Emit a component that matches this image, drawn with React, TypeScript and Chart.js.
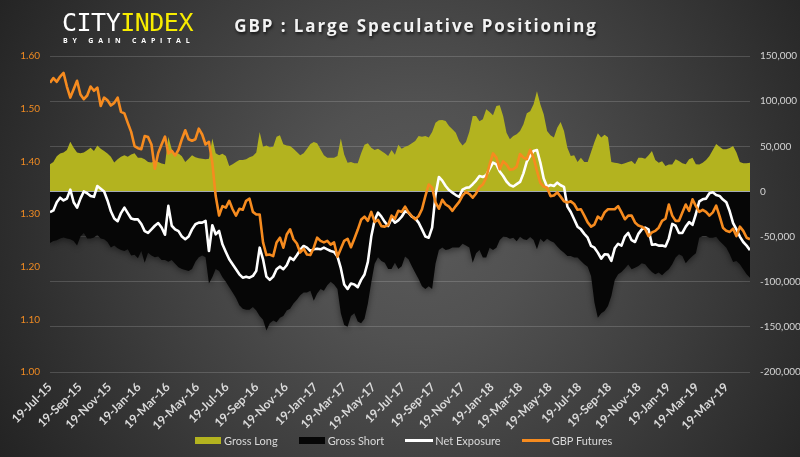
import { useEffect, useRef } from 'react';
import { Chart, registerables } from 'chart.js';

// Soft shadow under the Gross Short area (registered before the filler so it applies to the fill)
const SHORT_INDEX = 3;
const areaShadow = {
  id: 'areaShadow',
  beforeDatasetDraw(chart: any, args: any) {
    if (args.index !== SHORT_INDEX) return;
    const ctx = chart.ctx;
    ctx.save();
    ctx.shadowColor = 'rgba(0,0,0,0.45)';
    ctx.shadowBlur = 6;
    ctx.shadowOffsetY = 2;
  },
  afterDatasetDraw(chart: any, args: any) {
    if (args.index !== SHORT_INDEX) return;
    chart.ctx.restore();
  },
};

Chart.register(areaShadow, ...registerables);

// Tick labels of the date axis (every two months)
const TICK_LABELS = [
  '19-Jul-15', '19-Sep-15', '19-Nov-15', '19-Jan-16', '19-Mar-16', '19-May-16',
  '19-Jul-16', '19-Sep-16', '19-Nov-16', '19-Jan-17', '19-Mar-17', '19-May-17',
  '19-Jul-17', '19-Sep-17', '19-Nov-17', '19-Jan-18', '19-Mar-18', '19-May-18',
  '19-Jul-18', '19-Sep-18', '19-Nov-18', '19-Jan-19', '19-Mar-19', '19-May-19',
];

// Weekly observations starting 19-Jul-15
const GBP_FUTURES = [
  1.549, 1.558, 1.551, 1.561, 1.568, 1.542, 1.521, 1.537, 1.553, 1.527, 1.518, 1.525, 1.542, 1.534, 1.540, 1.505, 1.521, 1.516, 1.506, 1.511, 1.521, 1.494, 1.491, 1.473, 1.456, 1.429, 1.425, 1.423, 1.448, 1.446, 1.432, 1.386, 1.416, 1.432, 1.447, 1.415, 1.420, 1.411, 1.422, 1.442, 1.459, 1.442, 1.439,
  1.442, 1.462, 1.451, 1.432, 1.437, 1.397, 1.334, 1.297, 1.315, 1.312, 1.325, 1.309, 1.297, 1.310, 1.308, 1.325, 1.329, 1.304, 1.299, 1.299, 1.246, 1.222, 1.223, 1.220, 1.246, 1.255, 1.236, 1.261, 1.271, 1.252, 1.244, 1.227, 1.234, 1.223, 1.222, 1.236, 1.255, 1.249, 1.246, 1.249, 1.242,
  1.246, 1.219, 1.234, 1.249, 1.253, 1.237, 1.253, 1.270, 1.289, 1.295, 1.287, 1.304, 1.285, 1.289, 1.277, 1.276, 1.279, 1.297, 1.291, 1.306, 1.304, 1.314, 1.303, 1.296, 1.290, 1.296, 1.309, 1.334, 1.356, 1.350, 1.322, 1.310, 1.327, 1.318, 1.314, 1.306, 1.315, 1.323, 1.335, 1.342, 1.338,
  1.331, 1.339, 1.351, 1.356, 1.369, 1.394, 1.415, 1.407, 1.385, 1.400, 1.394, 1.384, 1.385, 1.390, 1.414, 1.407, 1.404, 1.422, 1.407, 1.382, 1.359, 1.352, 1.350, 1.334, 1.335, 1.341, 1.333, 1.324, 1.322, 1.324, 1.319, 1.308, 1.309, 1.297, 1.284, 1.276, 1.280, 1.295, 1.290, 1.303, 1.309, 1.309,
  1.309, 1.315, 1.303, 1.290, 1.297, 1.297, 1.284, 1.278, 1.276, 1.271, 1.258, 1.265, 1.268, 1.274, 1.287, 1.291, 1.318, 1.297, 1.287, 1.287, 1.303, 1.318, 1.306, 1.328, 1.315, 1.304, 1.308, 1.304, 1.297, 1.303, 1.316, 1.296, 1.274, 1.268, 1.266, 1.272, 1.258, 1.276, 1.268, 1.255, 1.252,
];

// Contracts, in thousands
const GROSS_LONG = [
  30, 32.6, 39, 42, 43, 46, 55, 48.5, 43, 42.2, 43, 45.5, 48.5, 44.8, 51, 47.4, 44.8, 42, 38.5, 32, 35.6, 38.5, 40, 38.5, 41, 42.2, 37.4, 37.4, 35.6, 32.6, 32, 33.7, 32.6, 31, 30, 60.7, 46.6, 41, 42, 39, 32.6, 36.3, 40,
  37.8, 36.7, 36.3, 35.6, 36.3, 58.5, 42.2, 40, 41.8, 39.3, 28.2, 30, 32.6, 34.8, 34.8, 35.6, 37.8, 39.3, 43, 65.8, 49.6, 51, 48.9, 49.6, 60.7, 62.1, 52.2, 51, 50.3, 47.4, 43.7, 40, 42.2, 47.4, 52.5, 54.8, 53.3, 46.6, 40, 37.4, 37.4,
  37.4, 39.3, 58.5, 41, 31.9, 32.6, 31.1, 31.1, 42.2, 51.8, 53.3, 48.5, 45.9, 47.4, 44.8, 42.2, 39.3, 45.9, 40.7, 51.8, 47.4, 49.6, 51, 53.3, 55.9, 61.4, 60.7, 61.4, 59.6, 65.8, 76.2, 78.8, 79.1, 78, 72.5, 68.8, 65.1, 55.9, 51, 54.8, 66,
  83.6, 83.6, 77.6, 79.9, 91, 88, 84.3, 94.6, 95.4, 83.6, 65.1, 57.7, 61.4, 63.3, 66.9, 74.3, 86.5, 88.7, 96.5, 111, 96.5, 85.4, 66.9, 62.1, 59.6, 70.6, 76.9, 66.9, 48.5, 39.3, 40, 32.6, 37.4, 32.6, 32.6, 43.7, 54.8, 64.4, 59.6, 62.9, 60, 32.6,
  31.9, 31.1, 30, 31.1, 32.6, 33.7, 30, 37.4, 37.4, 36.3, 40, 44.8, 34.8, 31.9, 33.4, 28.2, 29.7, 29.7, 35.6, 33.7, 31.1, 30, 35.6, 37.4, 30, 29.7, 31.9, 34.8, 39.3, 45.9, 52.5, 49.6, 46.6, 46.6, 48.1, 50.3, 43, 32.6, 31.1, 31.1, 31.9,
];

const GROSS_SHORT = [
  -57, -55, -54, -52, -51, -52, -53, -55, -60, -50, -46, -52, -52, -51, -48, -52, -53, -56, -62, -60, -63, -65, -66, -64, -71, -70, -74, -66, -79, -68, -71, -73, -72, -76, -76, -78, -76, -80, -84, -86, -87, -88, -86,
  -78, -73, -71, -73, -102, -95, -86, -88, -95, -100, -106, -112, -118, -126, -130, -131, -131, -128, -132, -138, -142, -154, -146, -143, -145, -140, -138, -132, -130, -124, -120, -115, -112, -112, -110, -121, -113, -108, -110, -104, -100,
  -103, -108, -135, -148, -150, -138, -135, -144, -146, -141, -124, -101, -80, -73, -77, -79, -86, -86, -79, -86, -83, -72, -75, -83, -90, -97, -105, -108, -105, -108, -80, -65, -62, -65, -64, -62, -62, -62, -58, -60, -62,
  -79, -68.5, -64.8, -73.3, -73.3, -62.3, -64.8, -62.3, -53.8, -50.1, -50.4, -52.3, -51.2, -55.2, -50.1, -53, -53.8, -50.4, -53.8, -64.1, -52.3, -56, -52.3, -54.9, -56.7, -61.1, -64.8, -67.8, -71.5, -71.5, -73.3, -73.3, -77, -80.7, -83.3, -93.6, -123, -139.8, -135, -132.4, -126.9, -115.8,
  -98, -91.8, -89.2, -85.5, -81, -86.2, -84.4, -82.6, -79.6, -80.7, -85.5, -89.2, -91.8, -89.9, -92.9, -89.2, -86.2, -80.7, -73.3, -69.6, -71.5, -79.6, -75.2, -71.5, -68.5, -51.2, -49.3, -49.3, -51.2, -51.2, -50.1, -54.9, -58.6, -62.3, -69.6, -78.1, -77, -80.7, -86.2, -91.8, -95.5,
];

const NET_EXPOSURE = [
  -23, -21, -12, -7, -10, -8, 2, -12, -18, -8, 0, -2, -5, -6, 6, 3, 0, -10, -22, -30, -33, -24, -18, -24, -30, -31, -31, -36, -44, -46, -42, -38, -35, -40, -48, -16, -38, -42, -44, -50, -53, -50, -42,
  -36.4, -34.6, -34.6, -32.7, -66, -37.5, -47.5, -43.8, -58.6, -67, -75.2, -80.7, -86.2, -91.8, -95.5, -94.4, -95.5, -93.6, -88, -62.3, -75.2, -94.4, -98, -94.4, -86.2, -83.3, -86.2, -81.8, -73.3, -76, -70.7, -64.8, -60.4, -62.3, -66, -64.1, -63.4, -64.1, -62.3, -64.1, -66,
  -67, -72, -85, -103, -108, -102, -103, -106, -98, -92, -78, -50, -31.6, -23.5, -27.9, -33.8, -38.3, -30, -34.6, -32, -28, -22, -23.5, -27.9, -29.8, -34.6, -42, -50, -51.2, -40, -4, 16, 12, 6, 1.5, -1.3, -4, -6, 2, 4, 4.5,
  8, 12, 17, 16, 18, 25, 31.9, 30, 22, 17.1, 11, 7, 5.5, 8, 10.5, 20, 33, 39.3, 44.8, 45.9, 31.9, 14.2, 5.3, 7.1, 6, 9.7, 6.8, 5, -16.8, -22.8, -30.9, -39, -42, -47, -51.2, -60.4, -62.3, -67.8, -74.4, -69.6, -70, -77,
  -63, -58, -60, -50, -46, -54, -56, -47, -42, -40, -42, -59, -58.6, -60, -60, -61, -52, -36, -38, -46, -46, -39, -34, -37, -25, -11, -8.7, -8, -2, -1, -4, -5, -9, -12, -22, -35, -42, -50, -56, -60, -65,
];

const MONTHS: Record<string, number> = {
  Jan: 0, Feb: 1, Mar: 2, Apr: 3, May: 4, Jun: 5, Jul: 6, Aug: 7, Sep: 8, Oct: 9, Nov: 10, Dec: 11,
};
const START = Date.UTC(2015, 6, 19);
const DAY = 86400000;
const dayOf = (label: string) => {
  const [d, m, y] = label.split('-');
  return (Date.UTC(2000 + Number(y), MONTHS[m], Number(d)) - START) / DAY;
};
const TICK_DAYS = TICK_LABELS.map(dayOf);
const toPoints = (arr: number[]) => arr.map((v, i) => ({ x: i * 7, y: v }));
const LAST_DAY = (GBP_FUTURES.length - 1) * 7;

const ORANGE = '#f68b1f';
const OLIVE = '#b3b31f';
const NET_INDEX = 1;

const zeroLine = {
  id: 'zeroLine',
  beforeDatasetDraw(chart: any, args: any) {
    if (args.index !== NET_INDEX) return;
    const { ctx, chartArea } = chart;
    const y = Math.round(chart.scales.y1.getPixelForValue(0)) + 0.5;
    ctx.save();
    ctx.strokeStyle = '#a3aab6';
    ctx.lineWidth = 1;
    ctx.beginPath();
    ctx.moveTo(chartArea.left, y);
    ctx.lineTo(chartArea.right, y);
    ctx.stroke();
    ctx.restore();
  },
};

function LegendItem({ kind, color, label }: { kind: 'box' | 'line'; color: string; label: string }) {
  return (
    <div style={{ display: 'flex', alignItems: 'center' }}>
      <div
        style={{
          width: kind === 'box' ? 26 : 28,
          height: kind === 'box' ? 7 : 3,
          background: color,
          marginRight: kind === 'box' ? 3 : 2,
        }}
      />
      <span>{label}</span>
    </div>
  );
}

export default function App() {
  const canvasRef = useRef<HTMLCanvasElement | null>(null);

  useEffect(() => {
    const canvas = canvasRef.current;
    if (!canvas) return;
    const chart = new Chart(canvas, {
      type: 'line',
      data: {
        datasets: [
          {
            label: 'GBP Futures',
            data: toPoints(GBP_FUTURES),
            yAxisID: 'y',
            borderColor: ORANGE,
            borderWidth: 2.6,
            pointRadius: 0,
            fill: false,
            tension: 0,
            borderJoinStyle: 'round',
          },
          {
            label: 'Net Exposure',
            data: toPoints(NET_EXPOSURE),
            yAxisID: 'y1',
            borderColor: '#ffffff',
            borderWidth: 2.6,
            pointRadius: 0,
            fill: false,
            tension: 0,
            borderJoinStyle: 'round',
          },
          {
            label: 'Gross Long',
            data: toPoints(GROSS_LONG),
            yAxisID: 'y1',
            borderColor: 'rgba(0,0,0,0)',
            borderWidth: 0,
            backgroundColor: OLIVE,
            pointRadius: 0,
            fill: 'origin',
            tension: 0,
          },
          {
            label: 'Gross Short',
            data: toPoints(GROSS_SHORT),
            yAxisID: 'y1',
            borderColor: 'rgba(0,0,0,0)',
            borderWidth: 0,
            backgroundColor: '#060606',
            pointRadius: 0,
            fill: 'origin',
            tension: 0,
          },
        ],
      },
      options: {
        animation: false,
        responsive: false,
        devicePixelRatio: 1,
        events: [],
        layout: { padding: { top: 56, left: 0, right: 0, bottom: 0 } },
        plugins: {
          legend: { display: false },
          title: { display: false },
          tooltip: { enabled: false },
        },
        scales: {
          x: {
            type: 'linear',
            min: 0,
            max: LAST_DAY,
            grid: { display: false, drawTicks: false },
            border: { display: false },
            afterBuildTicks: (s: any) => {
              s.ticks = TICK_DAYS.map((v) => ({ value: v }));
            },
            afterFit: (s: any) => {
              s.height = 85;
            },
            ticks: {
              autoSkip: false,
              maxRotation: 45,
              minRotation: 45,
              padding: 8,
              color: '#d9d9d9',
              font: { family: 'Lato', size: 12, weight: 'bold' },
              callback: (_v: any, i: number) => TICK_LABELS[i],
            },
          },
          y: {
            position: 'left',
            min: 1.0,
            max: 1.6,
            grid: { display: false, drawTicks: false },
            border: { display: false },
            afterFit: (s: any) => {
              s.width = 50;
            },
            ticks: {
              stepSize: 0.1,
              padding: 10,
              color: '#ee8a22',
              font: { family: 'Lato', size: 10 },
              callback: (v: any) => Number(v).toFixed(2),
            },
          },
          y1: {
            position: 'right',
            min: -200,
            max: 150,
            grid: { color: 'rgba(255,255,255,0.16)', lineWidth: 1, drawTicks: false },
            border: { display: false },
            afterFit: (s: any) => {
              s.width = 50;
            },
            ticks: {
              stepSize: 50,
              padding: 10,
              color: '#d4d4d4',
              font: { family: 'Lato', size: 10 },
              callback: (v: any) => (Number(v) * 1000).toLocaleString('en-US'),
            },
          },
        },
      } as any,
      plugins: [zeroLine],
    });
    return () => chart.destroy();
  }, []);

  return (
    <div
      style={{
        position: 'fixed',
        left: 0,
        top: 0,
        width: 800,
        height: 457,
        overflow: 'hidden',
        background:
          'radial-gradient(circle at 52% 48%, #5a5a5a 0%, #515151 25%, #3c3c3c 60%, #232323 100%)',
        fontFamily: 'Lato, sans-serif',
      }}
    >
      <canvas ref={canvasRef} width={800} height={457} style={{ position: 'absolute', left: 0, top: 0 }} />
      <div
        style={{
          position: 'absolute',
          left: 62,
          top: 10,
          fontFamily: '"DejaVu Sans Mono", monospace',
          fontSize: 25,
          lineHeight: '25px',
          letterSpacing: -0.5,
          whiteSpace: 'nowrap',
        }}
      >
        <span style={{ color: '#ffffff' }}>CITY</span>
        <span style={{ color: '#f7ec00' }}>INDEX</span>
      </div>
      <div
        style={{
          position: 'absolute',
          left: 63,
          top: 37,
          fontFamily: '"Open Sans", sans-serif',
          fontWeight: 700,
          fontSize: 7,
          lineHeight: '7px',
          letterSpacing: 4.8,
          color: '#ffffff',
          whiteSpace: 'nowrap',
        }}
      >
        BY GAIN CAPITAL
      </div>
      <div
        style={{
          position: 'absolute',
          left: 16,
          top: 17,
          width: 800,
          textAlign: 'center',
          fontFamily: '"Open Sans", sans-serif',
          fontWeight: 700,
          fontSize: 17,
          lineHeight: '17px',
          letterSpacing: 1.9,
          color: '#f2f2f2',
          textShadow: '1px 2px 3px rgba(0,0,0,0.7)',
          whiteSpace: 'nowrap',
        }}
      >
        GBP : Large Speculative Positioning
      </div>
      <div
        style={{
          position: 'absolute',
          left: 195,
          top: 433,
          height: 15,
          display: 'flex',
          alignItems: 'center',
          gap: 21,
          fontFamily: 'Lato, sans-serif',
          fontSize: 11,
          color: '#d9d9d9',
          whiteSpace: 'nowrap',
        }}
      >
        <LegendItem kind="box" color={OLIVE} label="Gross Long" />
        <LegendItem kind="box" color="#060606" label="Gross Short" />
        <LegendItem kind="line" color="#ffffff" label="Net Exposure" />
        <LegendItem kind="line" color={ORANGE} label="GBP Futures" />
      </div>
    </div>
  );
}
